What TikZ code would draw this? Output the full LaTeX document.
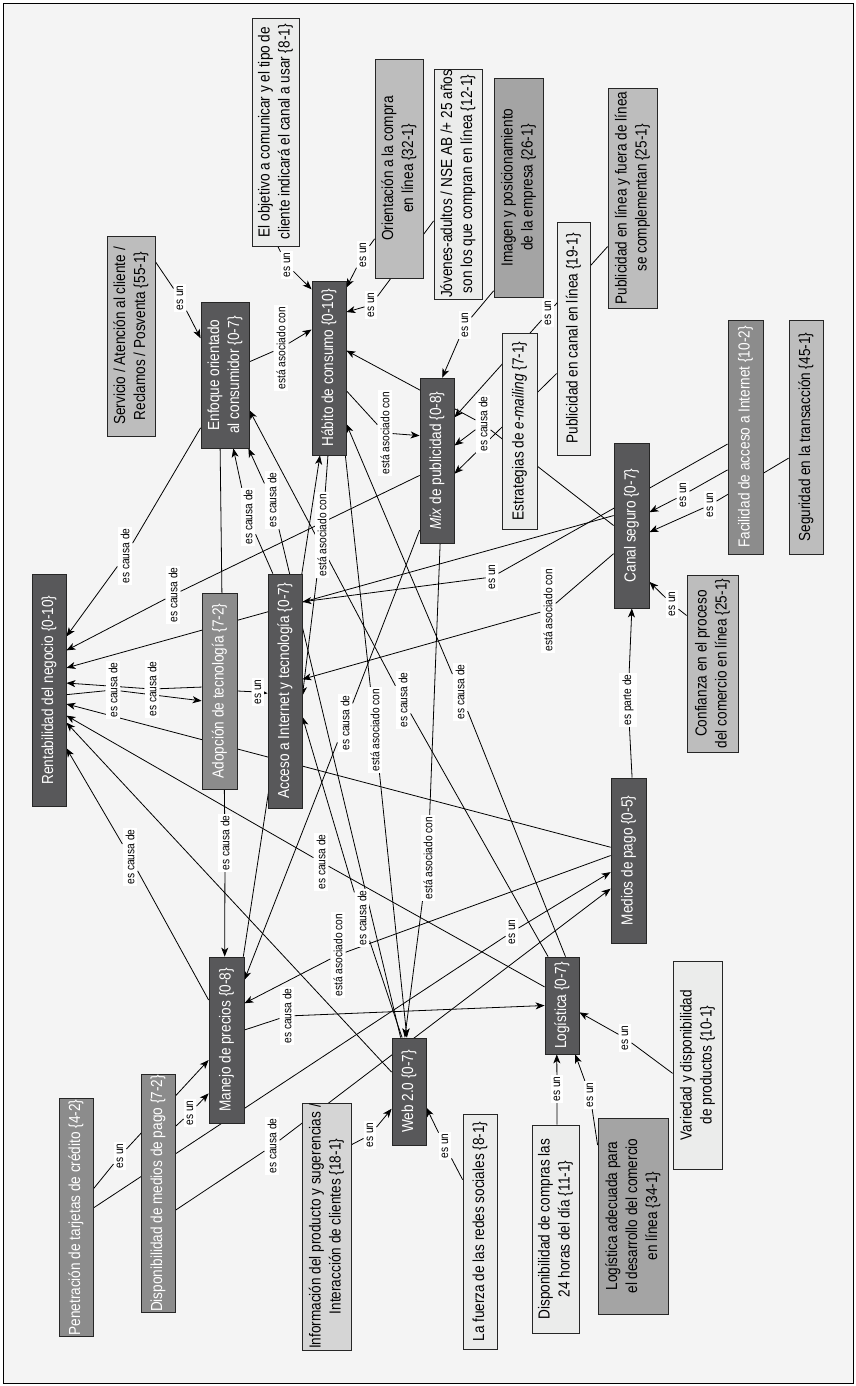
\documentclass[tikz,border=0pt]{standalone}
\usepackage{fontspec}
\setmainfont{Liberation Sans}[FakeStretch=0.85]
\usetikzlibrary{arrows.meta,calc}
\pgfdeclarelayer{bg}
\pgfdeclarelayer{edges}
\pgfsetlayers{bg,edges,main}
\definecolor{cdark}{HTML}{58585A}
\definecolor{cmed}{HTML}{8C8C8C}
\definecolor{cgray}{HTML}{A4A4A4}
\definecolor{clight}{HTML}{BDBDBD}
\definecolor{cinfo}{HTML}{D5D5D5}
\definecolor{cvlight}{HTML}{EBECEB}
\definecolor{cbg}{HTML}{F4F4F4}
% points on the sides of the (rotated) boxes, as seen on the page
\newcommand\PL[2]{($(#1.north east)!#2!(#1.north west)$)}
\newcommand\PR[2]{($(#1.south east)!#2!(#1.south west)$)}
\newcommand\PT[2]{($(#1.north east)!#2!(#1.south east)$)}
\newcommand\PB[2]{($(#1.north west)!#2!(#1.south west)$)}
\newcommand\lnk[3]{\draw[con] #1 -- (#2); \draw[arr] (#2) -- #3;}
\begin{document}
\begin{tikzpicture}[x=1pt,y=-1pt,
 cbox/.style={draw=black!85, line width=0.8pt, rotate=90, inner sep=1pt, align=center, font=\fontsize{16}{20}\selectfont},
 cdk/.style={cbox, fill=cdark, text=white},
 cmd/.style={cbox, fill=cmed, text=white},
 cgr/.style={cbox, fill=cgray},
 clt/.style={cbox, fill=clight},
 cin/.style={cbox, fill=cinfo},
 cvl/.style={cbox, fill=cvlight},
 lab/.style={fill=white, rotate=90, inner xsep=1.5pt, inner ysep=3pt, font=\fontsize{12}{14}\selectfont},
 con/.style={line width=0.8pt},
 arr/.style={con, -{Stealth[length=9pt,width=7pt,inset=2.5pt]}}]
\useasboundingbox (0,0) rectangle (855,1386);
\begin{pgfonlayer}{bg}
\draw[fill=cbg, line width=0.8pt] (3,3) rectangle (853,1383);
\end{pgfonlayer}

% concepts
\node[cvl, minimum width=228pt, minimum height=47pt] (objetivo) at (275.5,132) {El objetivo a comunicar y el tipo de\\cliente indicará el canal a usar \{8-1\}};
\node[clt, minimum width=219pt, minimum height=48pt] (orientacion) at (399,168.5) {Orientación a la compra\\en línea \{32-1\}};
\node[cvl, minimum width=226pt, minimum height=48pt] (jovenes) at (458,184) {Jóvenes-adultos / NSE AB /+ 25 años\\son los que compran en línea \{12-1\}};
\node[cgr, minimum width=219pt, minimum height=49pt] (imagen) at (518.5,187.5) {Imagen y posicionamiento\\de la empresa \{26-1\}};
\node[cvl, minimum width=233pt, minimum height=33pt] (pubcanal) at (573.5,338.5) {Publicidad en canal en línea \{19-1\}};
\node[clt, minimum width=220pt, minimum height=49pt] (pubcompl) at (632.5,198) {Publicidad en línea y fuera de línea\\se complementan \{25-1\}};
\node[cmd, minimum width=234pt, minimum height=35pt] (facilidad) at (745.5,437) {Facilidad de acceso a Internet \{10-2\}};
\node[clt, minimum width=234pt, minimum height=34pt] (seguridad) at (806,437) {Seguridad en la transacción \{45-1\}};
\node[cdk, minimum width=165pt, minimum height=35pt] (canal) at (631.5,525.5) {Canal seguro \{0-7\}};
\node[clt, minimum width=177pt, minimum height=51pt] (confianza) at (712.5,663.5) {Confianza en el proceso\\del comercio en línea \{25-1\}};
\node[cdk, minimum width=165pt, minimum height=35pt] (medios) at (628.5,860.5) {Medios de pago \{0-5\}};
\node[cvl, minimum width=208pt, minimum height=49pt] (variedad) at (697.5,1065) {Variedad y disponibilidad\\de productos \{10-1\}};
\node[cgr, minimum width=196pt, minimum height=70pt] (logade) at (633,1216) {Logística adecuada para\\el desarrollo del comercio\\en línea \{34-1\}};
\node[cvl, minimum width=208pt, minimum height=47pt] (disp24) at (555.5,1229) {Disponibilidad de compras las\\24 horas del día \{11-1\}};
\node[cdk, minimum width=97pt, minimum height=34pt] (logistica) at (562,1005.5) {Logística \{0-7\}};
\node[cvl, minimum width=235pt, minimum height=34pt] (fuerza) at (480,1231.5) {La fuerza de las redes sociales \{8-1\}};
\node[cdk, minimum width=107pt, minimum height=34pt] (web) at (409,1091.5) {Web 2.0 \{0-7\}};
\node[cin, minimum width=233pt, minimum height=49pt] (info) at (326.5,1226.5) {Información del producto y sugerencias /\\Interacción de clientes \{18-1\}};
\node[cdk, minimum width=166pt, minimum height=35pt] (manejo) at (226.5,1040) {Manejo de precios \{0-8\}};
\node[cmd, minimum width=235pt, minimum height=34pt] (dispmedios) at (158,1193.5) {Disponibilidad de medios de pago \{7-2\}};
\node[cmd, minimum width=235pt, minimum height=34pt] (penetracion) at (76,1217.5) {Penetración de tarjetas de crédito \{4-2\}};
\node[cdk, minimum width=232pt, minimum height=34pt] (rentab) at (49,690) {Rentabilidad del negocio \{0-10\}};
\node[cmd, minimum width=196pt, minimum height=35pt] (adopcion) at (219.5,691) {Adopción de tecnología \{7-2\}};
\node[cdk, minimum width=234pt, minimum height=34pt] (acceso) at (285,691) {Acceso a Internet y tecnología \{0-7\}};
\node[cdk, minimum width=146pt, minimum height=48pt] (enfoque) at (225,375) {Enfoque orientado\\al consumidor \{0-7\}};
\node[clt, minimum width=200pt, minimum height=48pt] (servicio) at (131,336) {Servicio / Atención al cliente /\\Reclamos / Posventa \{55-1\}};
\node[cdk, minimum width=174pt, minimum height=34pt] (habito) at (329,368) {Hábito de consumo \{0-10\}};
\node[cdk, minimum width=165pt, minimum height=34pt] (mix) at (437,460.5) {\textit{Mix} de publicidad \{0-8\}};
\node[cvl, minimum width=196pt, minimum height=35pt] (estrategias) at (519.5,431) {Estrategias de \textit{e-mailing} \{7-1\}};

% linking phrases
\node[lab] (la1) at (287,265) {es un};
\node[lab] (la2) at (363,255) {es un};
\node[lab] (la3) at (371,305) {es un};
\node[lab] (la4) at (465,325) {es un};
\node[lab] (la5) at (548,313) {es un};
\node[lab] (la6) at (483,424) {es causa de};
\node[lab] (la7) at (180,298) {es un};
\node[lab] (la8) at (281,348) {está asociado con};
\node[lab] (la9) at (125,556) {es causa de};
\node[lab] (la10) at (173,595) {es causa de};
\node[lab] (la11) at (152,689) {es causa de};
\node[lab] (la12) at (113,690) {es causa de};
\node[lab] (la13) at (258,692) {es un};
\node[lab] (la14) at (248,517) {es causa de};
\node[lab] (la15) at (272,500) {es causa de};
\node[lab] (la16) at (322,535) {está asociado con};
\node[lab] (la17) at (385,433) {está asociado con};
\node[lab] (la18) at (492,577) {es un};
\node[lab] (la19) at (548,610) {está asociado con};
\node[lab] (la20) at (628,700) {es parte de};
\node[lab] (la21) at (683,495) {es un};
\node[lab] (la22) at (710,505) {es un};
\node[lab] (la23) at (672,604) {es un};
\node[lab] (la24) at (130,857) {es causa de};
\node[lab] (la25) at (225,843) {es causa de};
\node[lab] (la26) at (345,723) {es causa de};
\node[lab] (la27) at (375,730) {está asociado con};
\node[lab] (la28) at (403,700) {es causa de};
\node[lab] (la29) at (460,692) {es causa de};
\node[lab] (la30) at (428,858) {está asociado con};
\node[lab] (la31) at (512,932) {es un};
\node[lab] (la32) at (321,862) {es causa de};
\node[lab] (la33) at (338,955) {está asociado con};
\node[lab] (la34) at (362,918) {es causa de};
\node[lab] (la35) at (287,1016) {es causa de};
\node[lab] (la36) at (190,1113) {es un};
\node[lab] (la37) at (120,1156) {es un};
\node[lab] (la38) at (272,1146) {es causa de};
\node[lab] (la39) at (370,1135) {es un};
\node[lab] (la40) at (445,1146) {es un};
\node[lab] (la41) at (557,1089) {es un};
\node[lab] (la42) at (590,1095) {es un};
\node[lab] (la43) at (625,1038) {es un};

\begin{pgfonlayer}{edges}
\lnk{\PB{objetivo}{0.55}}{la1}{\PL{habito}{0.05}}
\lnk{\PL{orientacion}{0.82}}{la2}{\PR{habito}{0.04}}
\lnk{\PL{jovenes}{0.66}}{la3}{\PR{habito}{0.18}}
\lnk{\PL{imagen}{0.97}}{la4}{\PT{mix}{0.65}}
\lnk{\PL{pubcompl}{0.72}}{la5}{\PR{mix}{0.24}}
\draw[arr] \PL{pubcanal}{0.65} -- \PR{mix}{0.58};
\lnk{\PL{canal}{0.5}}{la6}{\PR{habito}{0.40}}
\draw[arr] (la6) -- \PR{mix}{0.41};
\lnk{\PR{servicio}{0.13}}{la7}{\PL{enfoque}{0.25}}
\lnk{\PR{enfoque}{0.41}}{la8}{\PL{habito}{0.28}}
\lnk{\PL{enfoque}{0.86}}{la9}{\PR{rentab}{0.27}}
\lnk{\PL{mix}{0.59}}{la10}{\PR{rentab}{0.33}}
\lnk{\PL{adopcion}{0.48}}{la11}{\PR{rentab}{0.47}}
\lnk{\PR{rentab}{0.52}}{la12}{\PL{adopcion}{0.55}}
\lnk{\PR{adopcion}{0.5}}{la13}{\PL{acceso}{0.51}}
\lnk{\PT{acceso}{0.15}}{la14}{\PB{enfoque}{0.67}}
\lnk{\PT{web}{0.26}}{la15}{\PB{enfoque}{0.98}}
\lnk{\PB{habito}{0.47}}{la16}{\PR{acceso}{0.52}}
\lnk{\PR{habito}{0.63}}{la17}{\PL{mix}{0.35}}
\lnk{\PL{facilidad}{0.53}}{la18}{\PR{acceso}{0.12}}
\lnk{\PL{canal}{0.67}}{la19}{\PR{acceso}{0.45}}
\lnk{\PT{medios}{0.6}}{la20}{\PB{canal}{0.51}}
\lnk{\PL{facilidad}{0.64}}{la21}{\PR{canal}{0.42}}
\lnk{\PL{seguridad}{0.59}}{la22}{\PR{canal}{0.54}}
\lnk{\PL{confianza}{0.23}}{la23}{\PR{canal}{0.84}}
\lnk{\PL{manejo}{0.26}}{la24}{\PR{rentab}{0.75}}
\lnk{\PB{enfoque}{0.4}}{la25}{\PT{manejo}{0.45}}
\lnk{\PL{mix}{0.92}}{la26}{\PR{manejo}{0.14}}
\lnk{\PB{habito}{0.97}}{la27}{\PT{web}{0.44}}
\lnk{\PT{logistica}{0.1}}{la28}{\PR{enfoque}{0.74}}
\lnk{\PT{logistica}{0.6}}{la29}{\PR{habito}{0.82}}
\lnk{\PB{mix}{0.59}}{la30}{\PT{web}{0.38}}
\lnk{\PR{penetracion}{0.46}}{la31}{\PL{medios}{0.57}}
\lnk{\PL{logistica}{0.31}}{la32}{\PR{rentab}{0.61}}
\lnk{\PL{medios}{0.47}}{la33}{\PR{manejo}{0.28}}
\lnk{\PT{web}{0.3}}{la34}{\PR{acceso}{0.61}}
\lnk{\PR{manejo}{0.44}}{la35}{\PL{logistica}{0.5}}
\lnk{\PR{dispmedios}{0.22}}{la36}{\PL{manejo}{0.82}}
\lnk{\PR{penetracion}{0.38}}{la37}{\PL{manejo}{0.62}}
\lnk{\PR{dispmedios}{0.57}}{la38}{\PL{medios}{0.67}}
\lnk{\PR{info}{0.17}}{la39}{\PL{web}{0.66}}
\lnk{\PL{fuerza}{0.28}}{la40}{\PR{web}{0.65}}
\lnk{\PT{disp24}{0.53}}{la41}{\PB{logistica}{0.35}}
\lnk{\PL{logade}{0.14}}{la42}{\PB{logistica}{0.88}}
\lnk{\PL{variedad}{0.54}}{la43}{\PR{logistica}{0.57}}
\draw[arr] \PT{manejo}{0.97} -- \PB{habito}{0.24};
\draw[arr] \PL{web}{0.32} -- \PR{rentab}{0.64};
\draw[arr] \PL{canal}{0.44} -- \PR{rentab}{0.405};
\draw[arr] \PL{medios}{0.42} -- \PR{rentab}{0.56};
\end{pgfonlayer}
\end{tikzpicture}
\end{document}
